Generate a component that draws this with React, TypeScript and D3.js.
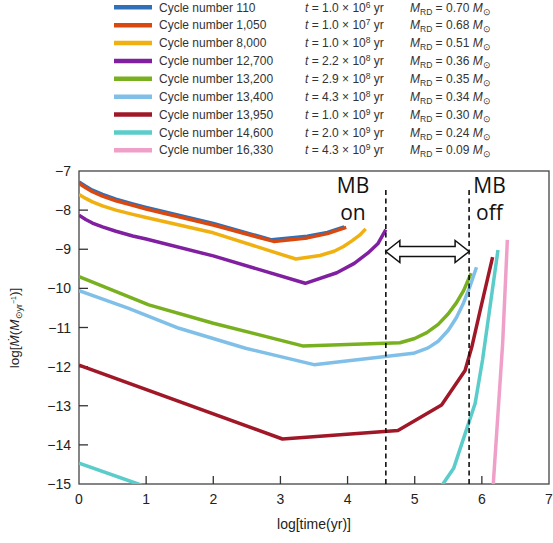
import React from "react";
import * as d3 from "d3";

type Pt = [number, number];

const cycleLabels = ["110", "1,050", "8,000", "12,700", "13,200", "13,400", "13,950", "14,600", "16,330"];
const tMantissa = ["1.0", "1.0", "1.0", "2.2", "2.9", "4.3", "1.0", "2.0", "4.3"];
const tExponent = ["6", "7", "8", "8", "8", "8", "9", "9", "9"];
const massRD = ["0.70", "0.68", "0.51", "0.36", "0.35", "0.34", "0.30", "0.24", "0.09"];
const colors = ["#3070b8", "#d9480f", "#f0b010", "#8020a0", "#78b020", "#80c0e8", "#a01828", "#5accca", "#f0a0c8"];

const xTicks = [0, 1, 2, 3, 4, 5, 6, 7];
const yTicks = [-7, -8, -9, -10, -11, -12, -13, -14, -15];

const MB_ON = 4.57;
const MB_OFF = 5.81;

const c110: Pt[] = [[0, -7.28], [0.1, -7.39], [0.2, -7.49], [0.35, -7.6], [0.55, -7.72], [0.8, -7.84], [1, -7.93], [2, -8.34], [2.87, -8.76], [3.4, -8.67], [3.7, -8.57], [3.95, -8.43]];
const c1050: Pt[] = [[0, -7.32], [0.1, -7.43], [0.2, -7.53], [0.35, -7.64], [0.55, -7.76], [0.8, -7.88], [1, -7.97], [2, -8.38], [2.9, -8.8], [3.4, -8.71], [3.7, -8.6], [3.98, -8.44]];
const c8000: Pt[] = [[0, -7.6], [0.1, -7.7], [0.2, -7.79], [0.35, -7.89], [0.55, -8.0], [0.8, -8.11], [1, -8.19], [2, -8.58], [3.23, -9.25], [3.59, -9.16], [3.8, -9.05], [3.94, -8.93], [4.07, -8.78], [4.18, -8.64], [4.27, -8.48]];
const c12700: Pt[] = [[0, -8.13], [0.1, -8.24], [0.2, -8.33], [0.35, -8.43], [0.55, -8.54], [0.8, -8.66], [1, -8.74], [2, -9.17], [3.37, -9.87], [3.84, -9.6], [4.1, -9.36], [4.3, -9.1], [4.45, -8.86], [4.57, -8.5]];
const c13200: Pt[] = [[0, -9.7], [1.04, -10.42], [2, -10.89], [3.33, -11.47], [4.78, -11.39], [5.0, -11.28], [5.18, -11.13], [5.35, -10.92], [5.5, -10.65], [5.62, -10.37], [5.73, -10.05], [5.84, -9.61]];
const c13400: Pt[] = [[0, -10.06], [0.74, -10.51], [1.49, -11.02], [2.48, -11.53], [3.5, -11.95], [4.98, -11.66], [5.2, -11.52], [5.35, -11.35], [5.5, -11.07], [5.62, -10.75], [5.72, -10.4], [5.82, -9.96], [5.92, -9.46]];
const c13950: Pt[] = [[0, -11.96], [3.03, -13.85], [4.75, -13.63], [5.4, -12.98], [5.75, -12.1], [5.85, -11.5], [5.97, -10.6], [6.16, -9.2]];
const c14600: Pt[] = [[0, -14.47], [0.88, -15], [1.5, -15.4], [5.3, -15.4], [5.42, -15], [5.58, -14.6], [5.9, -12.94], [6.01, -11.83], [6.24, -9.02]];
const c16330: Pt[] = [[6.14, -15.8], [6.17, -15], [6.31, -11.4], [6.38, -8.76]];

const series: Pt[][] = [c110, c1050, c8000, c12700, c13200, c13400, c13950, c14600, c16330];

const W = 553;
const H = 543;
const M = { left: 79, right: 549, top: 171, bottom: 484 };

export default function App() {
  const x = d3.scaleLinear().domain([0, 7]).range([M.left, M.right]);
  const y = d3.scaleLinear().domain([-15, -7]).range([M.bottom, M.top]);
  const line = d3
    .line<Pt>()
    .x((d) => x(d[0]))
    .y((d) => y(d[1]))
    .curve(d3.curveLinear);

  const font = "'Liberation Sans', Arial, sans-serif";
  const legendY0 = 7.3;
  const legendDy = 17.87;

  const xa = x(MB_ON);
  const xb = x(MB_OFF);
  const ay = 251.5;
  const hh = 11;
  const sh = 5;
  const hl = 14;
  const arrowPath = [
    [xa, ay],
    [xa + hl, ay - hh],
    [xa + hl, ay - sh],
    [xb - hl, ay - sh],
    [xb - hl, ay - hh],
    [xb, ay],
    [xb - hl, ay + hh],
    [xb - hl, ay + sh],
    [xa + hl, ay + sh],
    [xa + hl, ay + hh],
  ]
    .map((p, i) => (i === 0 ? "M" : "L") + p[0] + "," + p[1])
    .join(" ") + " Z";

  return (
    <svg
      width={W}
      height={H}
      style={{ position: "absolute", left: 0, top: 0, background: "#fff" }}
      fontFamily={font}
    >
      <defs>
        <clipPath id="plot">
          <rect x={M.left} y={M.top} width={M.right - M.left} height={M.bottom - M.top} />
        </clipPath>
      </defs>

      {/* legend */}
      {cycleLabels.map((c, i) => {
        const cy = legendY0 + i * legendDy;
        return (
          <g key={c} fill="#333" fontSize={12}>
            <line x1={114} x2={152} y1={cy} y2={cy} stroke={colors[i]} strokeWidth={4.5} />
            <text x={159} y={cy + 4.2}>{"Cycle number " + c}</text>
            <text x={305} y={cy + 4.2}>
              <tspan fontStyle="italic">t</tspan>
              {" = " + tMantissa[i] + " \u00d7 10"}
              <tspan dy={-4} fontSize={8.5}>{tExponent[i]}</tspan>
              <tspan dy={4}>{" yr"}</tspan>
            </text>
            <text x={410} y={cy + 4.2}>
              <tspan fontStyle="italic">M</tspan>
              <tspan dy={3} fontSize={8.5}>RD</tspan>
              <tspan dy={-3}>{" = " + massRD[i] + " "}</tspan>
              <tspan fontStyle="italic">M</tspan>
              <tspan dy={3} fontSize={8.5}>{"\u2299"}</tspan>
            </text>
          </g>
        );
      })}

      {/* frame */}
      <rect
        x={M.left}
        y={M.top}
        width={M.right - M.left}
        height={M.bottom - M.top}
        fill="none"
        stroke="#444"
        strokeWidth={1.3}
      />

      {/* ticks */}
      {xTicks.map((t) => (
        <g key={"x" + t}>
          {t > 0 && t < 7 && (
            <line x1={x(t)} x2={x(t)} y1={M.bottom} y2={M.bottom - 8} stroke="#333" strokeWidth={1.3} />
          )}
          <text x={x(t)} y={M.bottom + 20} textAnchor="middle" fontSize={14} fill="#222">
            {String(t)}
          </text>
        </g>
      ))}
      {yTicks.map((t) => (
        <g key={"y" + t}>
          {t > -15 && t < -7 && (
            <line x1={M.left} x2={M.left + 9} y1={y(t)} y2={y(t)} stroke="#333" strokeWidth={1.3} />
          )}
          <text x={M.left - 8} y={y(t) + 5} textAnchor="end" fontSize={14} fill="#222">
            {"\u2212" + Math.abs(t)}
          </text>
        </g>
      ))}

      {/* axis labels */}
      <text x={314} y={529} textAnchor="middle" fontSize={14} fill="#222">
        log[time(yr)]
      </text>
      <text transform="translate(19,328) rotate(-90)" textAnchor="middle" fontSize={13.5} fill="#222">
        {"log["}
        <tspan fontStyle="italic">{"\u1E40"}</tspan>
        {"("}
        <tspan fontStyle="italic">M</tspan>
        <tspan dy={3} fontSize={9}>{"\u2299yr"}</tspan>
        <tspan dy={-6} fontSize={7}>{"\u22121"}</tspan>
        <tspan dy={3}>{")]"}</tspan>
      </text>

      {/* curves */}
      <g clipPath="url(#plot)">
        {series.map((s, i) => (
          <path
            key={i}
            d={line(s) || ""}
            fill="none"
            stroke={colors[i]}
            strokeWidth={3.5}
            strokeLinejoin="round"
            strokeLinecap="butt"
          />
        ))}
      </g>

      {/* MB markers */}
      {[MB_ON, MB_OFF].map((v) => (
        <line
          key={v}
          x1={x(v)}
          x2={x(v)}
          y1={190}
          y2={M.bottom}
          stroke="#111"
          strokeWidth={1.6}
          strokeDasharray="5,3.5"
        />
      ))}
      <path d={arrowPath} fill="#fff" stroke="#111" strokeWidth={1.5} strokeLinejoin="miter" />
      <g fontFamily="'Open Sans', 'Liberation Sans', sans-serif" fontSize={21} fill="#111">
        <text x={353} y={193} textAnchor="middle">MB</text>
        <text x={353} y={220} textAnchor="middle">on</text>
        <text x={489.5} y={193} textAnchor="middle">MB</text>
        <text x={489.5} y={220} textAnchor="middle">off</text>
      </g>
    </svg>
  );
}
